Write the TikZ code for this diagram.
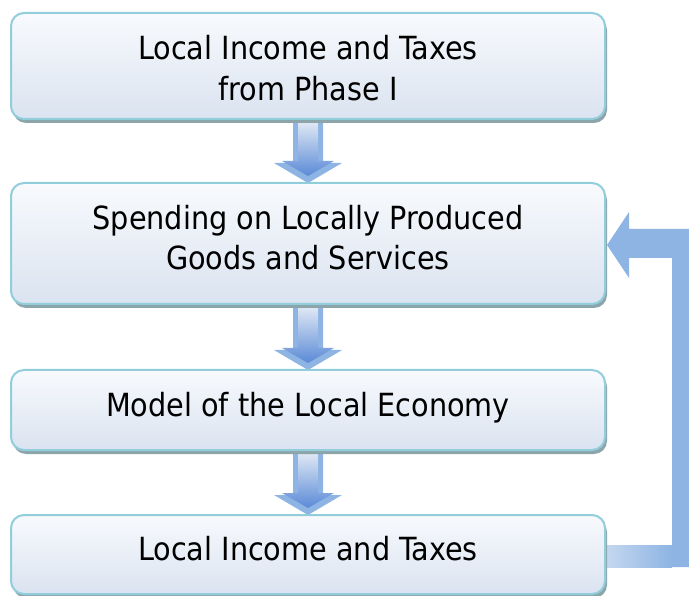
\documentclass[tikz,border=0pt]{standalone}
\usepackage{fontspec}
\setmainfont{DejaVu Sans Condensed}
\usetikzlibrary{calc,shadows,backgrounds}
\definecolor{boxedge}{HTML}{92CDDC}
\definecolor{boxtop}{HTML}{F8FAFD}
\definecolor{boxbot}{HTML}{DAE3F0}
\definecolor{shcol}{HTML}{8CA5AB}
\definecolor{arrout}{HTML}{8DB4E3}
\definecolor{arrtop}{HTML}{E0E8F4}
\definecolor{arrbot}{HTML}{5A8AD7}
\definecolor{fblight}{HTML}{C6D8F0}
\tikzset{
  flowbox/.style={draw=boxedge, line width=2pt, rounded corners=13pt,
    top color=boxtop, bottom color=boxbot, minimum width=594pt,
    inner sep=0pt, outer sep=0pt,
    drop shadow={shadow xshift=2pt, shadow yshift=-4pt, fill=shcol, opacity=1}},
  flowtext/.style={align=center, inner sep=0pt,
    font=\fontsize{31.9}{40.5}\selectfont},
}
\begin{document}
\begin{tikzpicture}[x=1pt,y=-1pt]
\useasboundingbox (0,0) rectangle (689,596);
\clip (0,0) rectangle (689,596);
\node[flowbox, minimum height=106pt] (b1) at (308,66) {};
\node[flowbox, minimum height=121pt] (b2) at (308,243.5) {};
\node[flowbox, minimum height=80pt] (b3) at (308,410) {};
\node[flowbox, minimum height=79pt] (b4) at (308,554.5) {};
\node[flowtext] (t1) at ($(b1.center)+(0,2)$) {Local Income and Taxes\\from Phase I};
\node[flowtext] (t2) at ($(b2.center)+(0,-6)$) {Spending on Locally Produced\\Goods and Services};
\node[flowtext] (t3) at ($(b3.center)+(0,-2.5)$) {Model of the Local Economy};
\node[flowtext] (t4) at ($(b4.center)+(0,-5.5)$) {Local Income and Taxes};
\begin{scope}[on background layer]
\foreach \u/\v in {b1/b2,b2/b3,b3/b4}{
  \fill[arrout] ($(\u.south)+(-15,0)$) -- ($(\v.north)+(-15,-20)$) -- ($(\v.north)+(-34,-20)$)
    -- (\v.north) -- ($(\v.north)+(34,-20)$) -- ($(\v.north)+(15,-20)$) -- ($(\u.south)+(15,0)$) -- cycle;
  \shade[top color=arrtop, bottom color=arrbot] ($(\u.south)+(-10,3)$) -- ($(\v.north)+(-10,-22)$) -- ($(\v.north)+(-26,-22)$)
    -- ($(\v.north)+(0,-7)$) -- ($(\v.north)+(26,-22)$) -- ($(\v.north)+(10,-22)$) -- ($(\u.south)+(10,3)$) -- cycle;
}
\coordinate (fbtip) at ($(b2.east)+(2,1.5)$);
\coordinate (fbstart) at ($(b4.east)+(0,-9.5)$);
\fill[arrout] (fbtip) -- ++(22,-33) -- ++(0,17) -- ++(66,0) -- ($(fbstart)+(90,22)$)
  -- ($(fbstart)+(67,22)$) -- ($(fbtip)+(65,13)$) -- ($(fbtip)+(22,13)$) -- ($(fbtip)+(22,33)$) -- cycle;
\shade[left color=fblight, right color=arrout] (fbstart) rectangle ($(fbstart)+(67,22)$);
\end{scope}
\end{tikzpicture}
\end{document}
